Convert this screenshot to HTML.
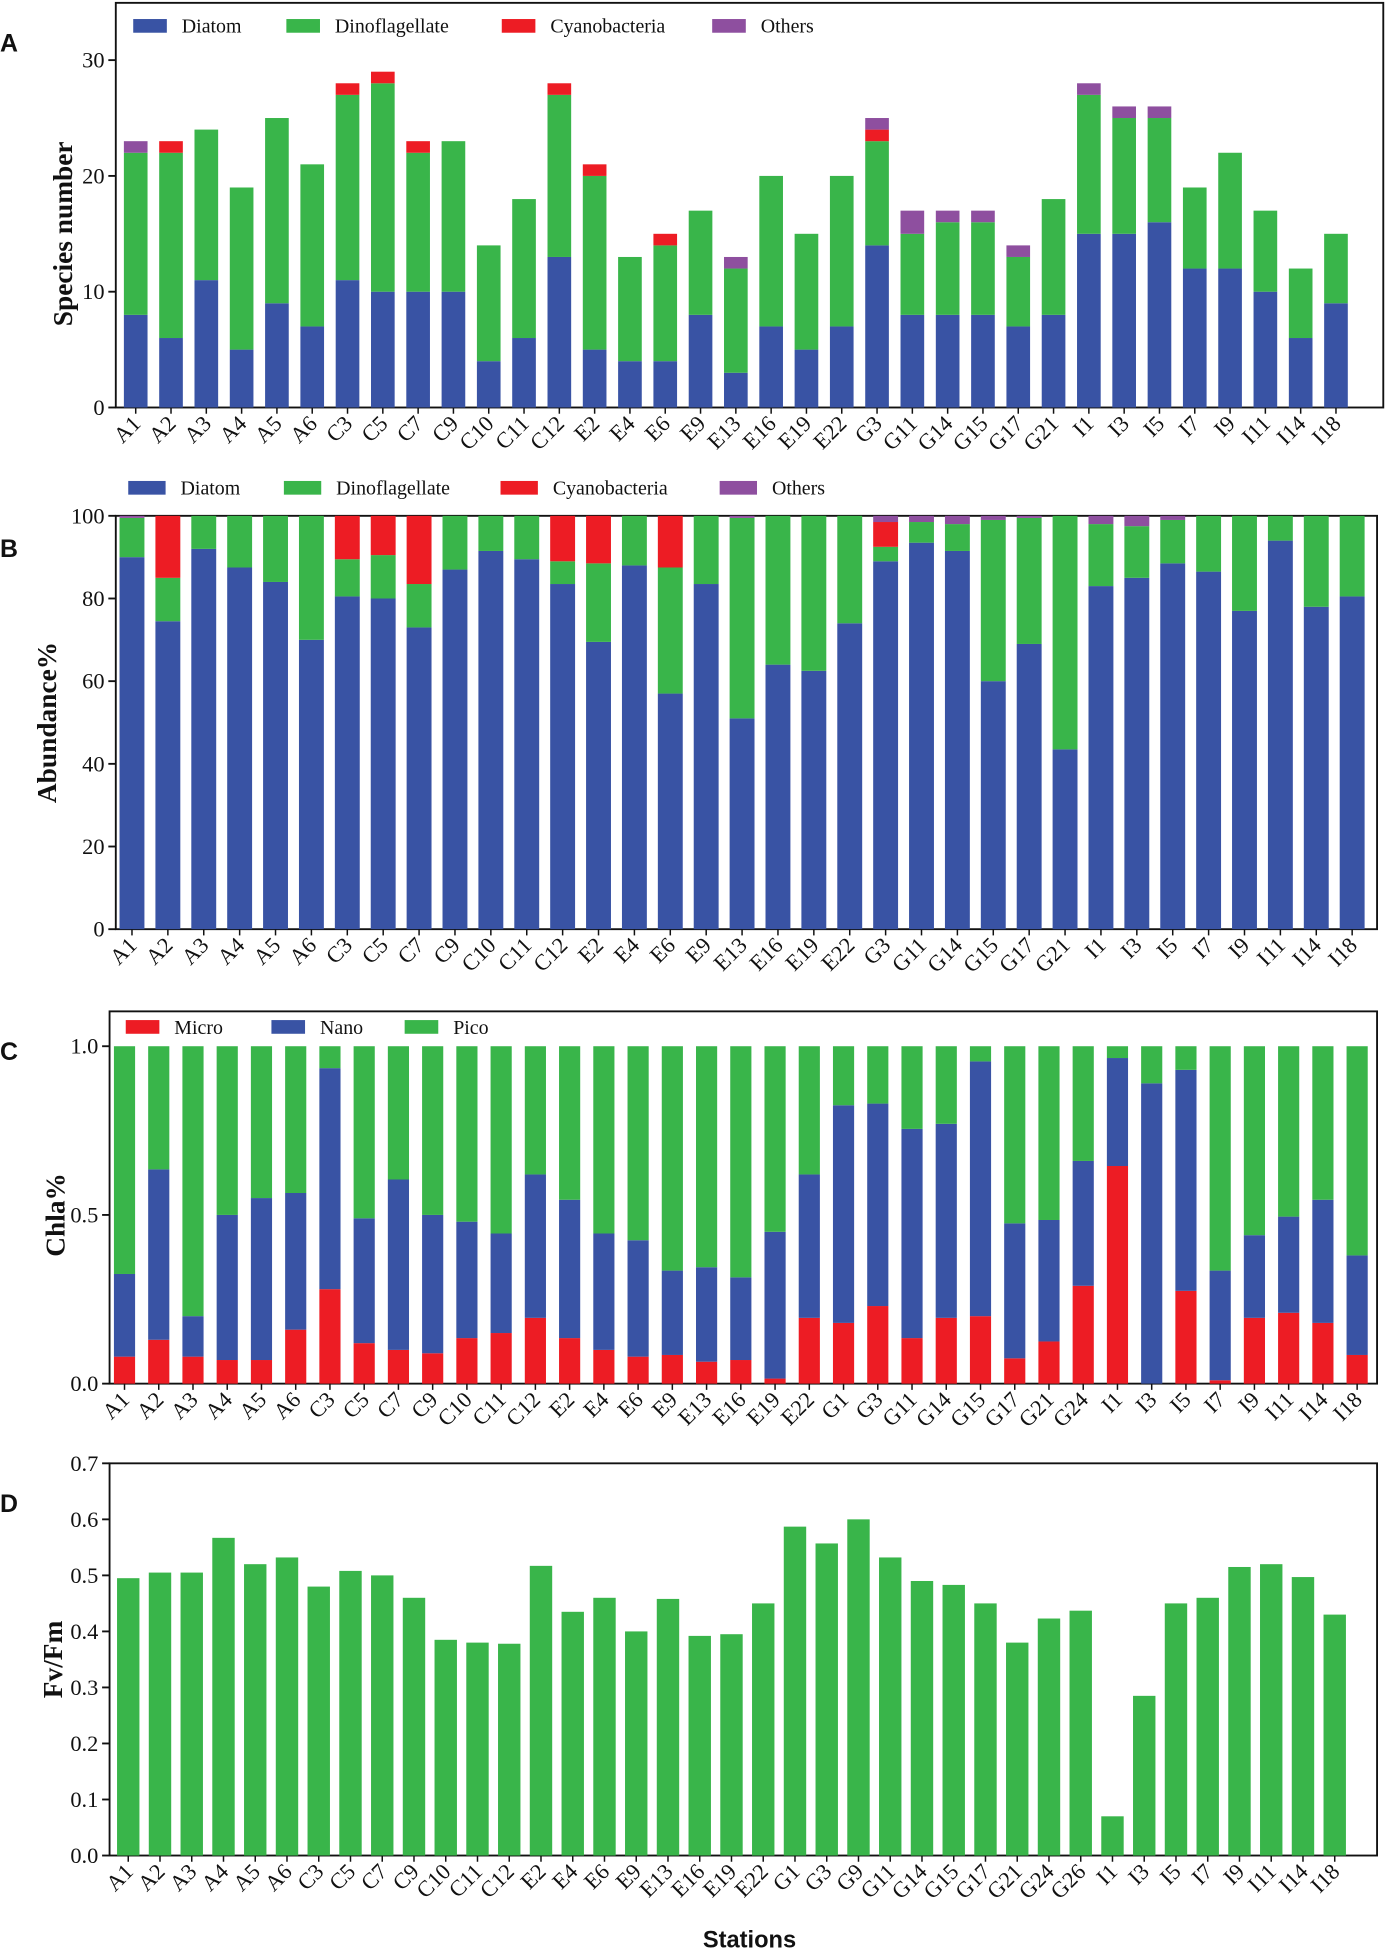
<!DOCTYPE html>
<html><head><meta charset="utf-8">
<style>
html,body{margin:0;padding:0;background:#fff}
svg{display:block}
text{font-family:"Liberation Serif",serif;fill:#111}
.t{font-size:18px}
.lg{font-size:16px}
.yt{font-size:22px;font-weight:bold}
.pl{font-family:"Liberation Sans",sans-serif;font-weight:bold;font-size:20px}
</style></head>
<body>
<svg id="fig" width="1392" height="1953" viewBox="0 0 1118 1568" xmlns="http://www.w3.org/2000/svg"></svg>
<script>
const COL={diatom:'#3953a4',dino:'#39b54a',cyano:'#ed1c24',others:'#8e4f9f',micro:'#ed1c24',nano:'#3953a4',pico:'#39b54a'};

const stationsA=['A1','A2','A3','A4','A5','A6','C3','C5','C7','C9','C10','C11','C12','E2','E4','E6','E9','E13','E16','E19','E22','G3','G11','G14','G15','G17','G21','I1','I3','I5','I7','I9','I11','I14','I18'];
const aDiatom=[8,6,11,5,9,7,11,10,10,10,4,6,13,5,4,4,8,3,7,5,7,14,8,8,8,7,8,15,15,16,12,12,10,6,9];
const aDino=[14,16,13,14,16,14,16,18,12,13,10,12,14,15,9,10,9,9,13,10,13,9,7,8,8,6,10,12,10,9,7,10,7,6,6];
const aCyano=[0,1,0,0,0,0,1,1,1,0,0,0,1,1,0,1,0,0,0,0,0,1,0,0,0,0,0,0,0,0,0,0,0,0,0];
const aOthers=[1,0,0,0,0,0,0,0,0,0,0,0,0,0,0,0,0,1,0,0,0,1,2,1,1,1,0,1,1,1,0,0,0,0,0];
const aTicks=[0,10,20,30];

const stationsB=stationsA;
const bDiatom=[90,74.5,92,87.5,84,70,80.5,80,73,87,91.5,89.5,83.5,69.5,88,57,83.5,51,64,62.5,74,89,93.5,91.5,60,69,43.5,83,85,88.5,86.5,77,94,78,80.5];
const bDino=[9.5,10.5,8,12.5,16,30,9,10.5,10.5,13,8.5,10.5,5.5,19,12,30.5,16.5,48.5,36,37.5,26,3.5,5,6.5,39,30.5,56.5,15,12.5,10.5,13.5,23,6,22,19.5];
const bCyano=[0,15,0,0,0,0,10.5,9.5,16.5,0,0,0,11,11.5,0,12.5,0,0,0,0,0,6,0,0,0,0,0,0,0,0,0,0,0,0,0];
const bOthers=[0.5,0,0,0,0,0,0,0,0,0,0,0,0,0,0,0,0,0.5,0,0,0,1.5,1.5,2,1,0.5,0,2,2.5,1,0,0,0,0,0];
const bTicks=[0,20,40,60,80,100];

const stationsC=['A1','A2','A3','A4','A5','A6','C3','C5','C7','C9','C10','C11','C12','E2','E4','E6','E9','E13','E16','E19','E22','G1','G3','G11','G14','G15','G17','G21','G24','I1','I3','I5','I7','I9','I11','I14','I18'];
const cMicro=[0.08,0.13,0.08,0.07,0.07,0.16,0.28,0.12,0.10,0.09,0.135,0.15,0.195,0.135,0.10,0.08,0.085,0.065,0.07,0.015,0.195,0.18,0.23,0.135,0.195,0.2,0.075,0.125,0.29,0.645,0,0.275,0.01,0.195,0.21,0.18,0.085];
const cNanoTop=[0.325,0.635,0.2,0.5,0.55,0.565,0.935,0.49,0.605,0.5,0.48,0.445,0.62,0.545,0.445,0.425,0.335,0.345,0.315,0.45,0.62,0.825,0.83,0.755,0.77,0.955,0.475,0.485,0.66,0.965,0.89,0.93,0.335,0.44,0.495,0.545,0.38];
const cTicks=[0,0.5,1.0];
const cTickLabels=['0.0','0.5','1.0'];

const stationsD=['A1','A2','A3','A4','A5','A6','C3','C5','C7','C9','C10','C11','C12','E2','E4','E6','E9','E13','E16','E19','E22','G1','G3','G9','G11','G14','G15','G17','G21','G24','G26','I1','I3','I5','I7','I9','I11','I14','I18'];
const dFvFm=[0.495,0.505,0.505,0.567,0.52,0.532,0.48,0.508,0.5,0.46,0.385,0.38,0.378,0.517,0.435,0.46,0.4,0.458,0.392,0.395,0.45,0.587,0.557,0.6,0.532,0.49,0.483,0.45,0.38,0.423,0.437,0.07,0.285,0.45,0.46,0.515,0.52,0.497,0.43];
const dTicks=[0,0.1,0.2,0.3,0.4,0.5,0.6,0.7];
const dTickLabels=['0.0','0.1','0.2','0.3','0.4','0.5','0.6','0.7'];

const NS='http://www.w3.org/2000/svg';
const svg=document.getElementById('fig');
function el(tag,attrs,parent,txt){const e=document.createElementNS(NS,tag);for(const k in attrs)e.setAttribute(k,attrs[k]);if(txt!==undefined)e.textContent=txt;(parent||svg).appendChild(e);return e;}

function panel(cfg){
  const g=el('g',{});
  
  
  const y=v=>cfg.y0-(v-cfg.vmin)/(cfg.vmax-cfg.vmin)*(cfg.y0-cfg.y1);
  const x=i=>cfg.c0+i*(cfg.c1-cfg.c0)/(cfg.cats.length-1);
  const fr=el('rect',{x:cfg.L,y:cfg.top,width:cfg.R-cfg.L,height:cfg.y0-cfg.top,fill:'none',stroke:'#111','stroke-width':1.5},g);
  
  
  cfg.ticks.forEach((t,k)=>{
    el('line',{x1:cfg.L-6,x2:cfg.L,y1:y(t),y2:y(t),stroke:'#111','stroke-width':1.5},g);
    const tl=el('text',{x:cfg.L-9,y:y(t)+6,'text-anchor':'end',class:'t'},g,cfg.tickLabels?cfg.tickLabels[k]:String(t));
    
    
  });
  cfg.cats.forEach((c,i)=>{
    let base=cfg.vmin;
    cfg.series.forEach(s=>{
      const v=s.vals[i];
      if(v>0){
        const r=el('rect',{x:x(i)-cfg.bw/2,y:y(base+v),width:cfg.bw,height:y(base)-y(base+v),fill:s.color},g);
        
        
      }
      base+=v;
    });
    el('line',{x1:x(i),x2:x(i),y1:cfg.y0,y2:cfg.y0+5,stroke:'#111','stroke-width':1.2},g);
    const lx=x(i)+5,ly=cfg.y0+14;
    const tl=el('text',{x:lx,y:ly,'text-anchor':'end',class:'t',transform:`rotate(-45 ${lx} ${ly})`},g,c);
    
    
  });
  const ym=(cfg.y0+cfg.y1)/2;
  const yt=el('text',{x:cfg.ytx,y:ym,'text-anchor':'middle',class:'yt',transform:`rotate(-90 ${cfg.ytx} ${ym})`},g,cfg.ytitle);
  
  
  const pl=el('text',{x:0,y:cfg.ply,class:'pl'},g,cfg.letter);
  
  
  if(cfg.legend){
    cfg.legend.forEach(L=>{
      const lg=el('g',{},g);
      
      
      el('rect',{x:L.x,y:cfg.legY-6,width:cfg.legW,height:11,fill:COL[L.key]},lg);
      el('text',{x:L.x+cfg.legW+12,y:cfg.legY+5,class:'lg'},lg,L.label);
    });
  }
}

panel({name:'panel-a-species',letter:'A',ply:41,L:93,R:1111,top:2,y0:327,y1:48,vmin:0,vmax:30,c0:109,c1:1073,bw:19,cats:stationsA,ticks:aTicks,ytitle:'Species number',ytx:58,
  series:[{key:'diatom',vals:aDiatom,color:COL.diatom},{key:'dino',vals:aDino,color:COL.dino},{key:'cyano',vals:aCyano,color:COL.cyano},{key:'others',vals:aOthers,color:COL.others}],
  legY:21,legW:27,legend:[{key:'diatom',x:107,label:'Diatom'},{key:'dino',x:230,label:'Dinoflagellate'},{key:'cyano',x:403,label:'Cyanobacteria'},{key:'others',x:572,label:'Others'}]});

panel({name:'panel-b-abundance',letter:'B',ply:447,L:93,R:1106,top:414,y0:746,y1:414,vmin:0,vmax:100,c0:106,c1:1086,bw:20,cats:stationsB,ticks:bTicks,ytitle:'Abundance%',ytx:45,
  series:[{key:'diatom',vals:bDiatom,color:COL.diatom},{key:'dino',vals:bDino,color:COL.dino},{key:'cyano',vals:bCyano,color:COL.cyano},{key:'others',vals:bOthers,color:COL.others}],
  legY:392,legW:30,legend:[{key:'diatom',x:103,label:'Diatom'},{key:'dino',x:228,label:'Dinoflagellate'},{key:'cyano',x:402,label:'Cyanobacteria'},{key:'others',x:578,label:'Others'}]});

const cNano=cNanoTop.map((t,i)=>Math.max(0,t-cMicro[i]));
const cPico=cNanoTop.map(t=>Math.max(0,1-t));
panel({name:'panel-c-chla',letter:'C',ply:851,L:88,R:1106,top:812,y0:1111,y1:840,vmin:0,vmax:1,c0:100,c1:1090,bw:17,cats:stationsC,ticks:cTicks,tickLabels:cTickLabels,ytitle:'Chla%',ytx:52,
  series:[{key:'micro',vals:cMicro,color:COL.micro},{key:'nano',vals:cNano,color:COL.nano},{key:'pico',vals:cPico,color:COL.pico}],
  legY:825,legW:27,legend:[{key:'micro',x:101,label:'Micro'},{key:'nano',x:218,label:'Nano'},{key:'pico',x:325,label:'Pico'}]});

panel({name:'panel-d-fvfm',letter:'D',ply:1214,L:88,R:1106,top:1175,y0:1490,y1:1175,vmin:0,vmax:0.7,c0:103,c1:1072,bw:18,cats:stationsD,ticks:dTicks,tickLabels:dTickLabels,ytitle:'Fv/Fm',ytx:50,
  series:[{key:'fvfm',vals:dFvFm,color:COL.dino}]});

const xt=el('text',{x:602,y:1564,'text-anchor':'middle',style:'font-family:"Liberation Sans",sans-serif;font-weight:bold;font-size:19px'},svg,'Stations');


</script>
</body></html>
